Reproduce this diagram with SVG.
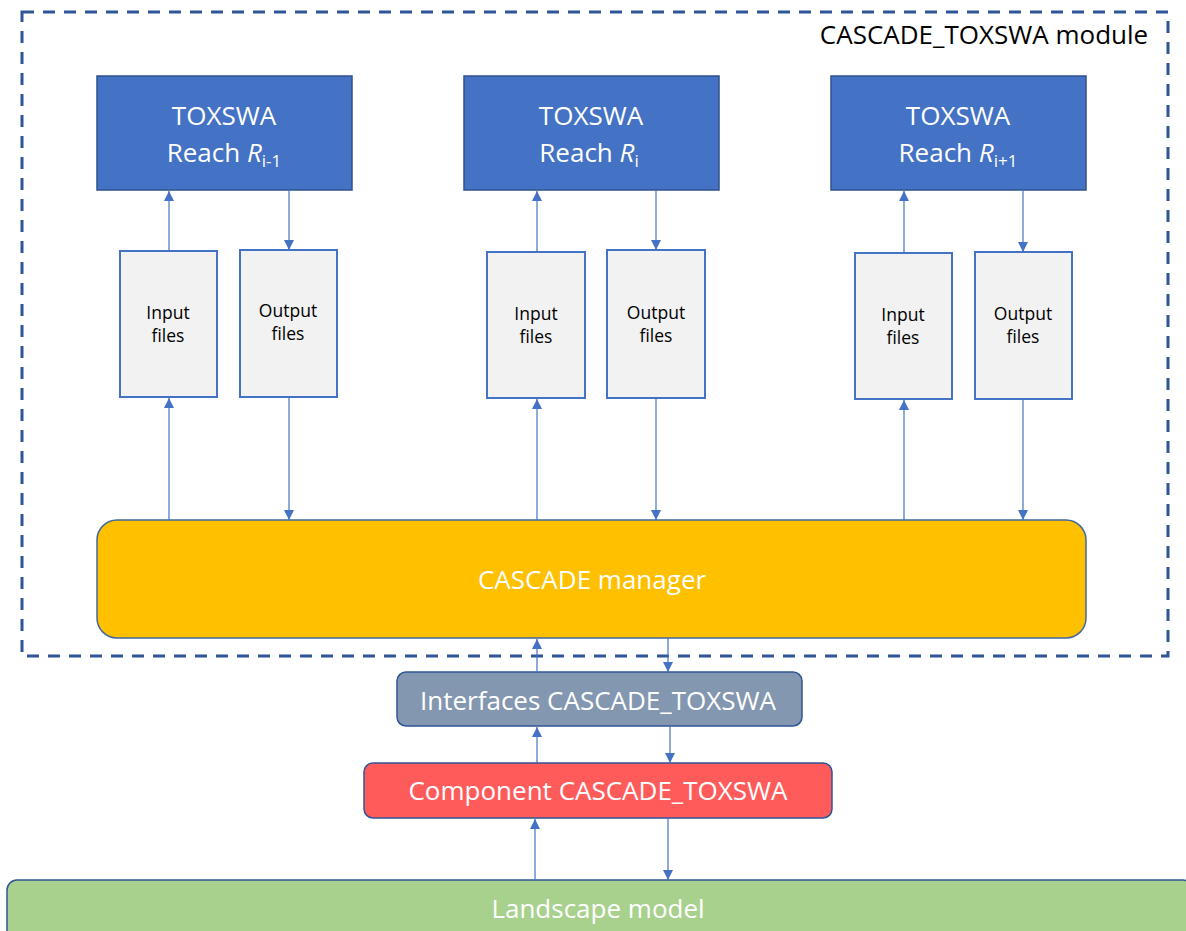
<svg xmlns="http://www.w3.org/2000/svg" width="1186" height="931" viewBox="0 0 1186 931">
<style>
.reach{fill:#4472C4;stroke:#2F528F;stroke-width:1.5}
.file{fill:#F2F2F2;stroke:#4472C4;stroke-width:2}
.wt{fill:#FFFFFF;font-family:"Open Sans","Liberation Sans",sans-serif;text-anchor:middle}
.bt{fill:#000000;font-family:"Open Sans","Liberation Sans",sans-serif;text-anchor:middle}
.con{stroke:#4472C4;stroke-width:1.2;fill:none;marker-end:url(#ah)}
</style>
<defs>
<marker id="ah" viewBox="0 0 10 10" refX="10" refY="5" markerWidth="10" markerHeight="10" markerUnits="userSpaceOnUse" orient="auto">
<path d="M0,0 L10,5 L0,10 Z" fill="#4472C4"/>
</marker>
</defs>
<rect width="1186" height="931" fill="#FFFFFF"/>
<g id="module">
<rect x="22" y="12" width="1146" height="644" fill="none" stroke="#2F5597" stroke-width="3" stroke-dasharray="12,9"/>
<text x="984" y="44" class="bt" font-size="26">CASCADE_TOXSWA module</text>
</g>
<g id="reach1">
<rect class="reach" x="97" y="76" width="255" height="114"/>
<text class="wt" x="224" y="125" font-size="26">TOXSWA</text>
<text class="wt" x="224" y="162" font-size="26">Reach <tspan font-style="italic">R</tspan><tspan font-size="17" dy="5">i-1</tspan></text>
</g>
<g id="reach2">
<rect class="reach" x="464" y="76" width="255" height="114"/>
<text class="wt" x="591" y="125" font-size="26">TOXSWA</text>
<text class="wt" x="589" y="162" font-size="26">Reach <tspan font-style="italic">R</tspan><tspan font-size="17" dy="5">i</tspan></text>
</g>
<g id="reach3">
<rect class="reach" x="831" y="76" width="255" height="114"/>
<text class="wt" x="958" y="125" font-size="26">TOXSWA</text>
<text class="wt" x="958" y="162" font-size="26">Reach <tspan font-style="italic">R</tspan><tspan font-size="17" dy="5">i+1</tspan></text>
</g>
<g id="input1"><rect class="file" x="120" y="251" width="97" height="146"/><text class="bt" x="168" y="319" font-size="17.5">Input</text><text class="bt" x="168" y="342" font-size="17.5">files</text></g>
<g id="output1"><rect class="file" x="240" y="250" width="97" height="147"/><text class="bt" x="288" y="317" font-size="17.5">Output</text><text class="bt" x="288" y="340" font-size="17.5">files</text></g>
<g id="input2"><rect class="file" x="487" y="252" width="98" height="146"/><text class="bt" x="536" y="320" font-size="17.5">Input</text><text class="bt" x="536" y="343" font-size="17.5">files</text></g>
<g id="output2"><rect class="file" x="607" y="250" width="98" height="148"/><text class="bt" x="656" y="319" font-size="17.5">Output</text><text class="bt" x="656" y="342" font-size="17.5">files</text></g>
<g id="input3"><rect class="file" x="855" y="253" width="97" height="146"/><text class="bt" x="903" y="321" font-size="17.5">Input</text><text class="bt" x="903" y="344" font-size="17.5">files</text></g>
<g id="output3"><rect class="file" x="975" y="252" width="97" height="147"/><text class="bt" x="1023" y="320" font-size="17.5">Output</text><text class="bt" x="1023" y="343" font-size="17.5">files</text></g>
<g id="manager">
<rect x="97" y="520" width="989" height="118" rx="20" fill="#FFC000" stroke="#41689E" stroke-width="1.5"/>
<text class="wt" x="592" y="589" font-size="26">CASCADE manager</text>
</g>
<g id="interfaces">
<rect x="397" y="672" width="405" height="54" rx="9" fill="#8497B0" stroke="#2F5597" stroke-width="1.5"/>
<text class="wt" x="598" y="710" font-size="26">Interfaces CASCADE_TOXSWA</text>
</g>
<g id="component">
<rect x="364" y="763" width="468" height="55" rx="9" fill="#FF5B5B" stroke="#2F5597" stroke-width="1.5"/>
<text class="wt" x="598" y="800" font-size="26">Component CASCADE_TOXSWA</text>
</g>
<g id="landscape">
<rect x="7" y="880" width="1186" height="70" rx="10" fill="#A9D18E" stroke="#2F5597" stroke-width="1.5"/>
<text class="wt" x="598" y="918" font-size="26">Landscape model</text>
</g>
<g id="connectors">
<line class="con" x1="169" y1="251" x2="169" y2="191"/>
<line class="con" x1="289" y1="190" x2="289" y2="250"/>
<line class="con" x1="537" y1="252" x2="537" y2="191"/>
<line class="con" x1="656" y1="190" x2="656" y2="250"/>
<line class="con" x1="904" y1="253" x2="904" y2="191"/>
<line class="con" x1="1023" y1="190" x2="1023" y2="252"/>
<line class="con" x1="169" y1="520" x2="169" y2="398"/>
<line class="con" x1="289" y1="397" x2="289" y2="520"/>
<line class="con" x1="537" y1="520" x2="537" y2="399"/>
<line class="con" x1="656" y1="398" x2="656" y2="520"/>
<line class="con" x1="904" y1="520" x2="904" y2="400"/>
<line class="con" x1="1023" y1="399" x2="1023" y2="520"/>
<line class="con" x1="537" y1="672" x2="537" y2="639"/>
<line class="con" x1="668" y1="638" x2="668" y2="672"/>
<line class="con" x1="537" y1="763" x2="537" y2="727"/>
<line class="con" x1="670" y1="726" x2="670" y2="763"/>
<line class="con" x1="535" y1="880" x2="535" y2="819"/>
<line class="con" x1="668" y1="818" x2="668" y2="880"/>
</g>
</svg>
